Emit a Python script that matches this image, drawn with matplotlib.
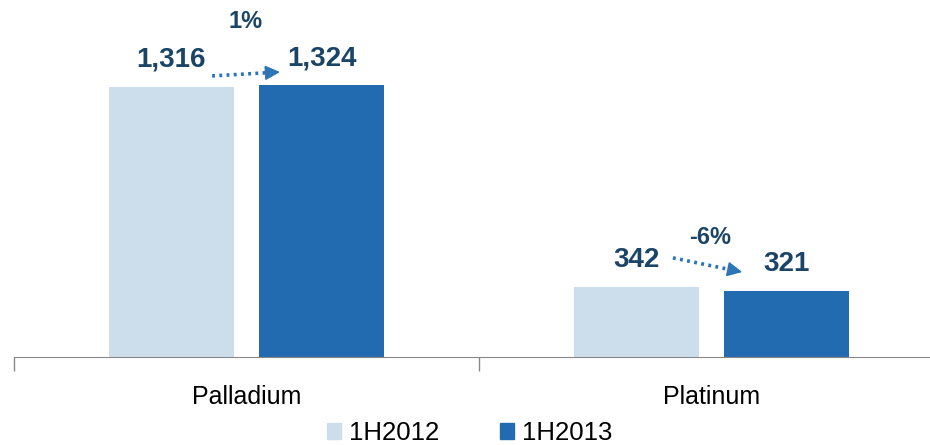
import matplotlib.pyplot as plt
import matplotlib.patches as mpatches
import numpy as np

plt.rcParams['font.family'] = ['Liberation Sans', 'DejaVu Sans']

metals = ['Palladium', 'Platinum']
periods = ['1H2012', '1H2013']
demand_2012 = [1316, 342]
demand_2013 = [1324, 321]
changes = ['1%', '-6%']

light = '#CCDDEC'
dark = '#236BB0'
label_col = '#1B4566'
arrow_col = '#2E75B6'

fig = plt.figure(figsize=(9.3, 4.45), dpi=100)
ax = fig.add_axes([14 / 930, 88 / 445, 1.0, 357 / 445])

x = np.arange(len(metals))
w = 0.269
off = 0.162
ax.bar(x - off, demand_2012, w, color=light, zorder=2)
ax.bar(x + off, demand_2013, w, color=dark, zorder=2)

ax.set_xlim(-0.5, 1.5)
ax.set_ylim(0, 1740)

# value labels above each bar
for xs, vals in ((x - off, demand_2012), (x + off, demand_2013)):
    for xi, v in zip(xs, vals):
        ax.annotate(f'{v:,}', (xi, v), xytext=(0, 19.5), textcoords='offset points',
                    ha='center', va='center', fontsize=20, fontweight='bold', color=label_col)

# dotted change arrows with a solid head, plus percentage text
arrow_y = [(1370, 1389), (483, 414)]
arrow_x = [(-0.074, 0.072), (-0.083, 0.066)]
pct_y = [1633, 580]
for i, (c, (y0, y1), (dx0, dx1), py) in enumerate(zip(changes, arrow_y, arrow_x, pct_y)):
    x0, x1 = i + dx0, i + dx1
    slope = (y1 - y0) / (x1 - x0)
    ax.plot([x0, x1 - 0.02], [y0, y1 - 0.02 * slope],
            ls=(0, (0.8, 1.2)), lw=2.6, color=arrow_col)
    ax.annotate('', xy=(x1, y1), xytext=(x1 - 0.025, y1 - 0.025 * slope),
                arrowprops=dict(arrowstyle='-|>,head_length=0.9,head_width=0.45',
                                lw=1.2, color=arrow_col, shrinkA=0, shrinkB=0))
    ax.text(i - 0.003, py, c, ha='center', va='center', fontsize=17,
            fontweight='bold', color=label_col)

for s in ('top', 'right', 'left'):
    ax.spines[s].set_visible(False)
ax.spines['bottom'].set_color('#888888')
ax.set_yticks([])
ax.set_xticks(x)
ax.set_xticklabels(metals, fontsize=18)
ax.tick_params(axis='x', which='major', length=0, pad=20)
ax.set_xticks([-0.5, 0.5, 1.5], minor=True)
ax.tick_params(axis='x', which='minor', length=10, color='#888888', width=1)

handles = [mpatches.Patch(color=light), mpatches.Patch(color=dark)]
fig.legend(handles, periods, loc='center', bbox_to_anchor=(0.505, 0.027), ncol=2,
           frameon=False, fontsize=18.5, handlelength=0.56, handleheight=0.56,
           handletextpad=0.3, columnspacing=2.35, borderpad=0)

fig.savefig('out.png', dpi=100)
